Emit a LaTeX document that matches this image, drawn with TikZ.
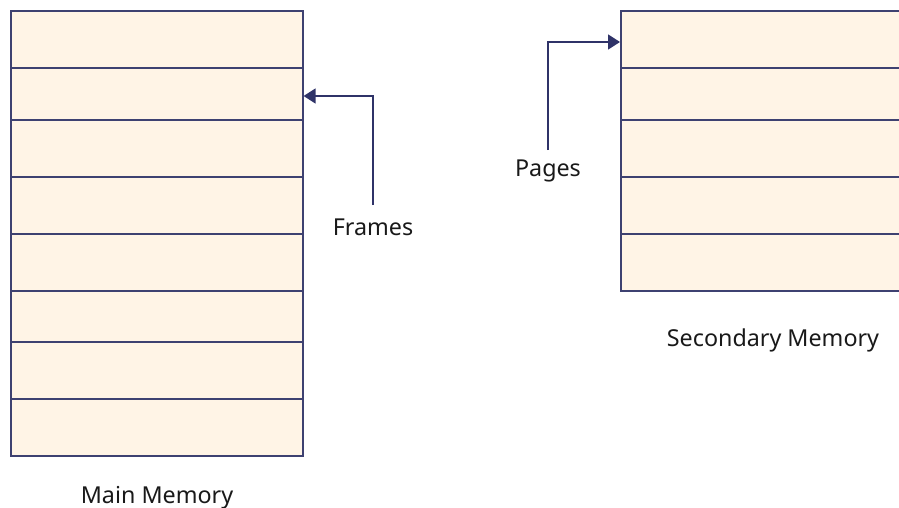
\documentclass[tikz,border=0pt]{standalone}
\usepackage{fontspec}
\setmainfont{Noto Sans}
\usetikzlibrary{arrows.meta}
\definecolor{cellfill}{HTML}{FFF4E6}
\definecolor{cellline}{HTML}{3E4171}
\definecolor{arrowink}{HTML}{2F3368}
\tikzset{
  cell/.style={draw=cellline, fill=cellfill, line width=1.6pt, inner sep=0pt, anchor=north west},
  label/.style={font=\fontsize{23.3}{27}\selectfont, text=black!90, inner sep=0pt, anchor=base},
  pointer/.style={draw=arrowink, line width=1.6pt, -{Triangle[length=12pt,width=15pt]}}
}
\begin{document}
\begin{tikzpicture}[x=1pt,y=-1pt]
\useasboundingbox (0,0) rectangle (899,508);
% main memory: eight frames
\foreach \i/\top/\bot in {1/10/67,2/67/119,3/119/176,4/176/233,5/233/290,6/290/341,7/341/398,8/398/455}{
  \node[cell, minimum width=292pt, minimum height={(\bot-\top)*1pt}] (m\i) at (10,\top) {};
}
% secondary memory: five pages, running past the right edge
\foreach \i/\top/\bot in {1/10/67,2/67/119,3/119/176,4/176/233,5/233/290}{
  \node[cell, minimum width=300pt, minimum height={(\bot-\top)*1pt}] (s\i) at (620,\top) {};
}
% labels, placed on their baselines
\node[label] (mainlbl) at (157,503) {Main Memory};
\node[label] (seclbl) at (773,346) {Secondary Memory};
\node[label] (frames) at (373,235) {Frames};
\node[label] (pages) at (548,176) {Pages};
% pointers
\coordinate (fstart) at ([yshift=30pt]frames.base);
\coordinate (pstart) at ([yshift=26pt]pages.base);
\coordinate (fturn) at (373,96);
\coordinate (pturn) at (548,42);
\draw[pointer] (fstart) -- (fturn) -- (m2.east |- fturn);
\draw[pointer] (pstart) -- (pturn) -- (s1.west |- pturn);
\end{tikzpicture}
\end{document}
